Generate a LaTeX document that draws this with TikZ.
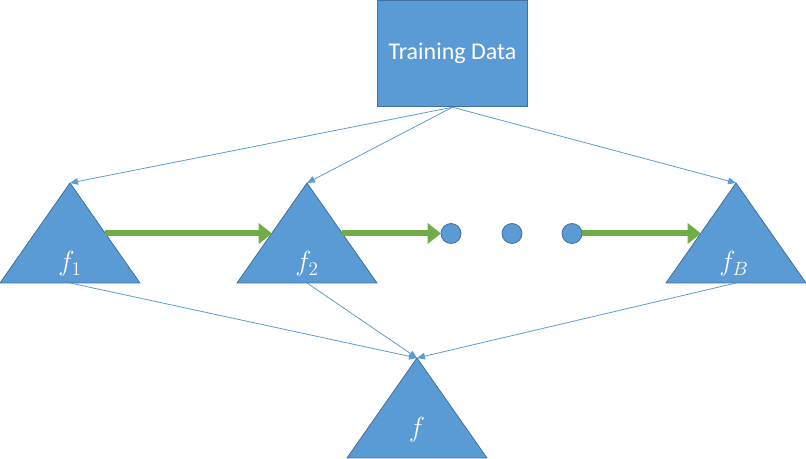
\documentclass[tikz,border=0pt]{standalone}
\usepackage{amsmath}
\usepackage{fontspec}
\setmainfont{Carlito}
\usetikzlibrary{arrows.meta}
\definecolor{blau}{HTML}{5B9BD5}
\definecolor{vora}{HTML}{41719C}
\definecolor{verd}{HTML}{70AD47}
\tikzset{
  tri/.style={fill=blau, draw=vora, line width=0.6pt},
  fina/.style={blau, line width=0.6pt, -{Triangle[length=6pt,width=5pt]}},
  gruixuda/.style={verd, line width=4.5pt, -{Triangle[length=10pt,width=15pt]}},
  etiq/.style={text=white, font=\fontsize{20}{22}\selectfont}
}

\begin{document}
\begin{tikzpicture}[x=0.75pt,y=0.75pt]
        \useasboundingbox (0,0) rectangle (806,459);
        \node[fill=blau, draw=vora, line width=0.6pt, minimum width=113pt, minimum height=80pt,
              text=white, font=\fontsize{18}{20}\selectfont] (dades) at (452.5,405.5) {Training Data};
        % Triangles
        \draw[tri] (0,176) -- (70,276) -- (140,176) -- cycle;
        \draw[tri] (237,176) -- (307,276) -- (377,176) -- cycle;
        \draw[tri] (666,176) -- (736,276) -- (806,176) -- cycle;
        \draw[tri] (347,1) -- (417,101) -- (487,1) -- cycle;
        \node[etiq] (l1) at (70,195) {$f_1$};
        \node[etiq] (l2) at (307,195) {$f_2$};
        \node[etiq] (lB) at (734,195) {$f_B$};
        \node[etiq] (lf) at (417,29) {$f$};
        % Punts
        \foreach \x/\n in {451/c1,512/c2,572/c3}
            \draw[fill=blau, draw=vora, line width=0.6pt] (\x,225.5) circle (7.5pt) coordinate (\n);
        % Vertexs i bases
        \coordinate (a1) at (70,276); \coordinate (a2) at (307,276); \coordinate (aB) at (736,276);
        \coordinate (b1) at (70,176); \coordinate (b2) at (307,176); \coordinate (bB) at (736,176);
        \coordinate (af) at (417,101);
        \draw[fina] (dades.south) -- (a1);
        \draw[fina] (dades.south) -- (a2);
        \draw[fina] (dades.south) -- (aB);
        \draw[fina] (b1) -- (af);
        \draw[fina] (b2) -- (af);
        \draw[fina] (bB) -- (af);
        % Fletxes verdes
        \coordinate (e1) at (105,225.5); \coordinate (e2) at (272,225.5);
        \coordinate (e3) at (342,225.5); \coordinate (e4) at (701,225.5);
        \draw[gruixuda] (e1) -- (e2);
        \draw[gruixuda] (e3) -- ([xshift=-7.5pt]c1);
        \draw[gruixuda] ([xshift=7.5pt]c3) -- (e4);
    \end{tikzpicture}
\end{document}
